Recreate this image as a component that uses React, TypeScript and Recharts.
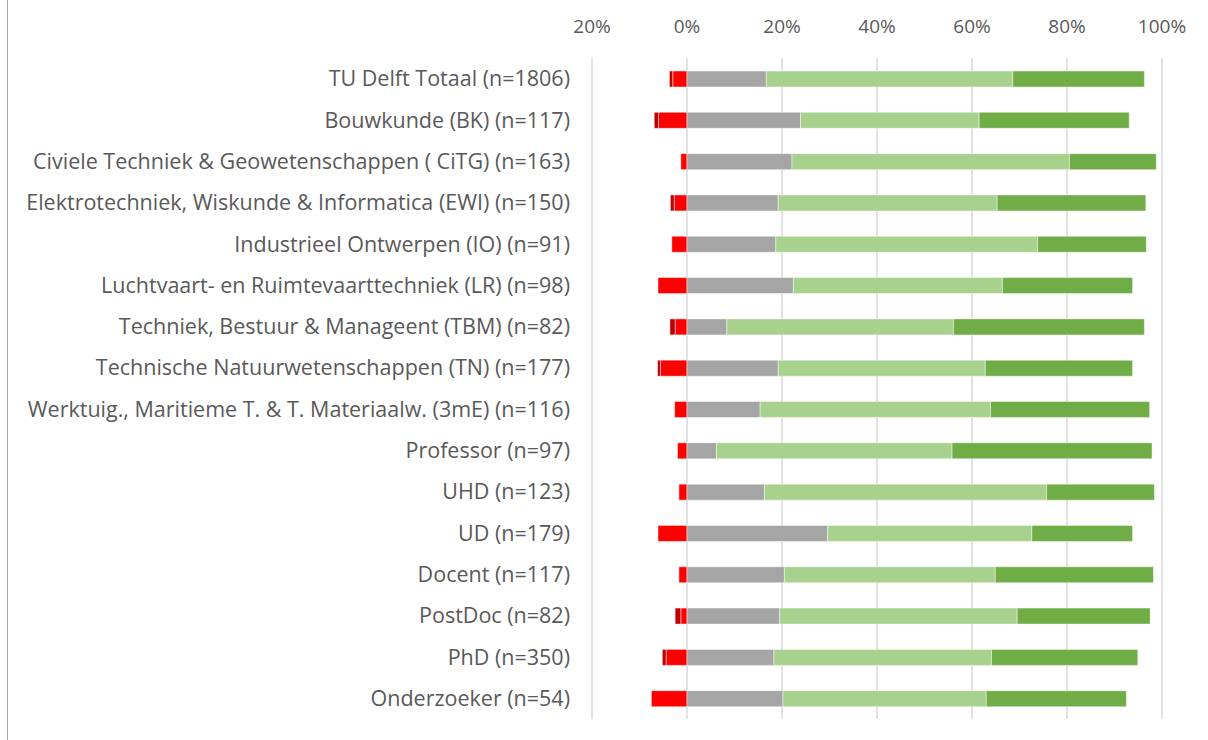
import { BarChart, Bar, XAxis, YAxis, CartesianGrid } from 'recharts'

const categories = [
  'TU Delft Totaal (n=1806)',
  'Bouwkunde (BK) (n=117)',
  'Civiele Techniek & Geowetenschappen ( CiTG) (n=163)',
  'Elektrotechniek, Wiskunde & Informatica (EWI) (n=150)',
  'Industrieel Ontwerpen (IO) (n=91)',
  'Luchtvaart- en Ruimtevaarttechniek (LR) (n=98)',
  'Techniek, Bestuur & Manageent (TBM) (n=82)',
  'Technische Natuurwetenschappen (TN) (n=177)',
  'Werktuig., Maritieme T. & T. Materiaalw. (3mE) (n=116)',
  'Professor (n=97)',
  'UHD (n=123)',
  'UD (n=179)',
  'Docent (n=117)',
  'PostDoc (n=82)',
  'PhD (n=350)',
  'Onderzoeker (n=54)',
]

// negative side (percent, drawn left of 0)
const redPart     = [-3.0, -6.0, -1.3, -2.7, -3.2, -6.1, -2.5, -5.6, -2.6, -2.0, -1.7, -6.1, -1.7, -1.3, -4.4, -7.5]
const darkRedPart = [-0.7, -0.9, 0, -0.8, 0, 0, -1.1, -0.6, 0, 0, 0, 0, 0, -1.2, -0.8, 0]
// positive side
const grayPart       = [16.7, 23.9, 22.1, 19.2, 18.7, 22.4, 8.4, 19.2, 15.4, 6.2, 16.3, 29.6, 20.5, 19.5, 18.3, 20.2]
const lightGreenPart = [51.9, 37.6, 58.4, 46.1, 55.1, 44.0, 47.7, 43.6, 48.5, 49.6, 59.4, 43.0, 44.4, 50.0, 45.8, 42.8]
const darkGreenPart  = [27.7, 31.6, 18.3, 31.3, 22.9, 27.4, 40.2, 31.0, 33.5, 42.1, 22.7, 21.2, 33.3, 28.0, 30.8, 29.5]

const xTicks = [-20, 0, 20, 40, 60, 80, 100]

const data = categories.map((name, i) => ({
  name,
  red: redPart[i],
  darkRed: darkRedPart[i],
  gray: grayPart[i],
  lightGreen: lightGreenPart[i],
  darkGreen: darkGreenPart[i],
}))

const font = '"Open Sans", sans-serif'
const edge = { stroke: '#ffffff', strokeOpacity: 0.45, strokeWidth: 1 }

export default function App() {
  return (
    <div style={{ position: 'absolute', left: 0, top: 0, width: 1208, height: 740, background: '#fff', fontFamily: font }}>
      <div style={{ position: 'absolute', left: 7, top: 0, width: 1, height: 740, background: '#A6A6A6' }} />
      <div style={{ position: 'absolute', left: 0, top: 0 }}>
        <BarChart
          width={1208}
          height={740}
          data={data}
          layout="vertical"
          stackOffset="sign"
          barSize={16}
          margin={{ top: 0, right: 46, bottom: 21, left: 0 }}
        >
          <CartesianGrid horizontal={false} vertical stroke="#D9D9D9" strokeWidth={1.5} />
          <XAxis
            type="number"
            orientation="top"
            domain={[-20, 100]}
            ticks={xTicks}
            height={58}
            axisLine={false}
            tickLine={false}
            tickSize={0}
            tickMargin={25}
            tick={{ fill: '#595959', fontSize: 19, fontFamily: font }}
            tickFormatter={(v: number) => `${Math.abs(v)}%`}
            interval={0}
          />
          <YAxis
            type="category"
            dataKey="name"
            width={592}
            axisLine={false}
            tickLine={false}
            tickSize={0}
            tickMargin={22}
            tick={{ fill: '#595959', fontSize: 21.5, fontFamily: font }}
            interval={0}
          />
          <Bar dataKey="red" stackId="a" fill="#FF0000" {...edge} isAnimationActive={false} />
          <Bar dataKey="darkRed" stackId="a" fill="#C00000" {...edge} isAnimationActive={false} />
          <Bar dataKey="gray" stackId="a" fill="#A5A5A5" {...edge} isAnimationActive={false} />
          <Bar dataKey="lightGreen" stackId="a" fill="#A9D18E" {...edge} isAnimationActive={false} />
          <Bar dataKey="darkGreen" stackId="a" fill="#70AD47" {...edge} isAnimationActive={false} />
        </BarChart>
      </div>
    </div>
  )
}
